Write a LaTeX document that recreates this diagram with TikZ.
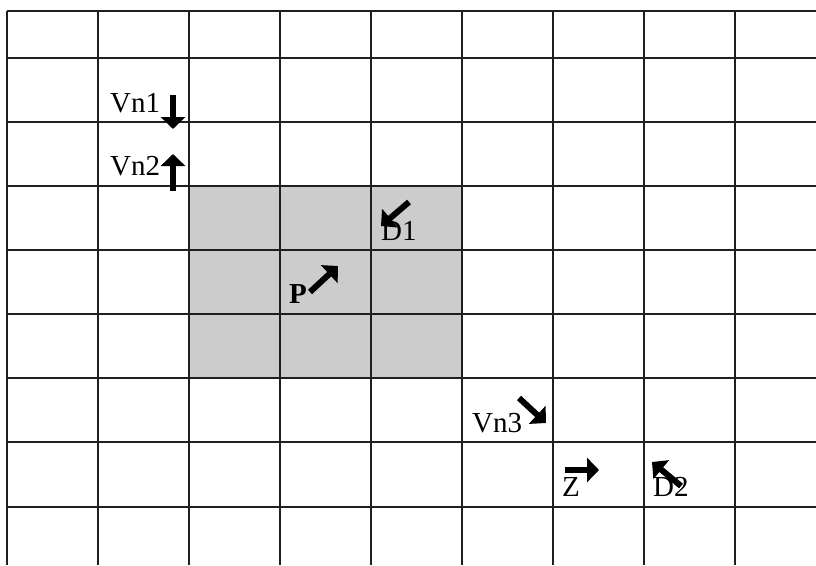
\documentclass[tikz,border=0pt]{standalone}
\usepackage{fontspec}
\setmainfont{Liberation Serif}
\usetikzlibrary{arrows.meta}
\tikzset{
  gridline/.style={line width=2.6pt, draw=black!88},
  lbl/.style={anchor=base west, inner sep=0pt, font=\fontsize{29}{32}\selectfont},
  arr/.style={line width=6pt, -{Triangle[width=24pt,length=12pt]}, black}
}
\begin{document}
\begin{tikzpicture}[x=1pt,y=-1pt]
\useasboundingbox (0,0) rectangle (816,565);
\fill[black!20] (189,186) rectangle (462,378);
\foreach \x in {7,98,189,280,371,462,553,644,735}
  \draw[gridline] (\x,11) -- (\x,565);
\foreach \y in {11,58,122,186,250,314,378,442,507}
  \draw[gridline] (7,\y) -- (816,\y);
% labels
\node[lbl] (vn1) at (110,112) {Vn1};
\node[lbl] (vn2) at (110,175) {Vn2};
\node[lbl] (d1) at (381,240) {D1};
\node[lbl] (p) at (289,303) {\textbf{P}};
\node[lbl] (vn3) at (472,432) {Vn3};
\node[lbl] (z) at (562,496) {Z};
\node[lbl] (d2) at (653,496) {D2};
% arrows
\coordinate (a1s) at (173,95);  \coordinate (a1e) at (173,129);
\coordinate (a2s) at (173,191); \coordinate (a2e) at (173,154);
\coordinate (a3s) at (409,202); \coordinate (a3e) at (381,226);
\coordinate (a4s) at (310,292); \coordinate (a4e) at (338,266);
\coordinate (a5s) at (519,398); \coordinate (a5e) at (546,423);
\coordinate (a6s) at (565,470); \coordinate (a6e) at (599,470);
\coordinate (a7s) at (681,486); \coordinate (a7e) at (652,462);
\draw[arr] (a1s) -- (a1e);
\draw[arr] (a2s) -- (a2e);
\draw[arr] (a3s) -- (a3e);
\draw[arr] (a4s) -- (a4e);
\draw[arr] (a5s) -- (a5e);
\draw[arr] (a6s) -- (a6e);
\draw[arr] (a7s) -- (a7e);
\end{tikzpicture}
\end{document}
